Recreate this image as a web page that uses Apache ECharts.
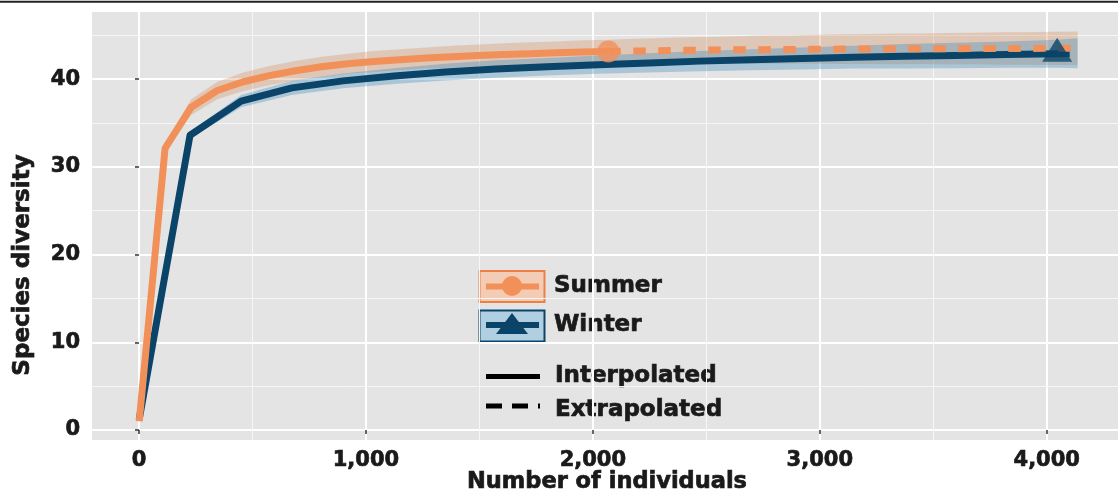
<!DOCTYPE html>
<html>
<head>
<meta charset="utf-8">
<script src="https://cdn.jsdelivr.net/npm/echarts@6/dist/echarts.min.js"></script>
<style>
  html, body { margin: 0; padding: 0; background: #ffffff; }
  #chart { width: 1118px; height: 503px; }
</style>
</head>
<body>
<div id="chart"></div>
<script>
// Rarefaction (interpolated) part of each curve, ending at the observed sample
const summerX = [1, 115, 230, 345, 460, 574, 689, 804, 919, 1034, 1149, 1264, 1379, 1494, 1609, 1723, 1838, 1953, 2068];
const summerY = [1.0, 32.1, 36.8, 38.7, 39.7, 40.4, 40.95, 41.4, 41.75, 42.0, 42.2, 42.4, 42.55, 42.7, 42.8, 42.9, 43.0, 43.08, 43.15];
// Extrapolated part (continues from the observed sample)
const summerExtX = [2183, 2298, 2413, 2528, 2643, 2757, 2872, 2987, 3102, 3217, 3332, 3447, 3562, 3676, 3791, 3906, 4021, 4136];
const summerExtY = [43.2, 43.24, 43.28, 43.31, 43.34, 43.36, 43.38, 43.4, 43.42, 43.43, 43.45, 43.46, 43.47, 43.48, 43.49, 43.5, 43.51, 43.52];
// 95% confidence band over the whole summer curve (interpolated + extrapolated)
const summerLo = [1.0, 31.6, 35.9, 37.7, 38.65, 39.3, 39.85, 40.25, 40.6, 40.8, 41.0, 41.2, 41.3, 41.45, 41.5, 41.6, 41.7, 41.73, 41.8,
                  41.8, 41.79, 41.78, 41.81, 41.79, 41.76, 41.78, 41.75, 41.72, 41.73, 41.7, 41.71, 41.67, 41.68, 41.64, 41.65, 41.61, 41.62];
const summerHi = [1.0, 32.6, 37.7, 39.7, 40.75, 41.5, 42.05, 42.55, 42.9, 43.2, 43.4, 43.6, 43.8, 43.95, 44.1, 44.2, 44.3, 44.43, 44.5,
                  44.6, 44.69, 44.78, 44.81, 44.89, 44.96, 44.98, 45.05, 45.12, 45.13, 45.2, 45.21, 45.27, 45.28, 45.34, 45.35, 45.41, 45.42];

const winterX = [1, 225, 450, 674, 899, 1124, 1349, 1573, 1798, 2023, 2248, 2472, 2697, 2922, 3147, 3371, 3596, 3821, 4046];
const winterY = [1.2, 33.6, 37.5, 39.0, 39.8, 40.35, 40.8, 41.15, 41.4, 41.65, 41.85, 42.05, 42.2, 42.35, 42.5, 42.6, 42.7, 42.8, 42.9];
const winterExtX = [4136];
const winterExtY = [42.93];
const winterLo = [1.2, 33.2, 36.8, 38.2, 38.95, 39.45, 39.85, 40.15, 40.4, 40.6, 40.75, 40.9, 41.0, 41.1, 41.2, 41.2, 41.25, 41.3, 41.3, 41.25];
const winterHi = [1.2, 34.0, 38.2, 39.8, 40.65, 41.25, 41.75, 42.15, 42.4, 42.7, 42.95, 43.2, 43.4, 43.6, 43.8, 44.0, 44.15, 44.3, 44.5, 44.65];

// Axis ticks and grid
const xTicks = [0, 1000, 2000, 3000, 4000];
const xMinorTicks = [500, 1500, 2500, 3500];
const yTicks = [0, 10, 20, 30, 40];
const yMinorTicks = [5, 15, 25, 35, 45];
const seriesNames = ['Summer', 'Winter'];
const methodNames = ['Interpolated', 'Extrapolated'];

const ORANGE = '#F2905A';
const NAVY = '#0A4468';
const FONT = 'DejaVu Sans';
const TEXT = '#1a1a1a';

const chart = echarts.init(document.getElementById('chart'), null, { renderer: 'canvas' });

function pairs(xs, ys) { return xs.map((x, i) => [x, ys[i]]); }

function band(xs, lo, hi, fill, z) {
  return {
    type: 'custom',
    xAxisIndex: 0, yAxisIndex: 0,
    silent: true, z: z,
    data: xs.map((x, i) => [x, lo[i], hi[i]]),
    encode: { x: 0, y: [1, 2] },
    renderItem: function (params, api) {
      if (params.dataIndex !== 0) return null;
      const pts = [];
      for (let i = 0; i < xs.length; i++) pts.push(api.coord([xs[i], hi[i]]));
      for (let i = xs.length - 1; i >= 0; i--) pts.push(api.coord([xs[i], lo[i]]));
      return { type: 'polygon', shape: { points: pts }, style: { fill: fill } };
    }
  };
}

function curve(data, color, dashed, z) {
  return {
    type: 'line', xAxisIndex: 0, yAxisIndex: 0, silent: true, z: z,
    data: data, symbol: 'none', showSymbol: false,
    lineStyle: { color: color, width: 7, type: dashed ? [12.5, 12.5] : 'solid', cap: 'butt', join: 'round' }
  };
}

// heavy bold text: bold face plus a thin outline in the same colour
function label(text, x, y, size, extra) {
  return Object.assign({
    type: 'text', x: x, y: y, silent: true,
    style: { text: text, font: 'bold ' + size + 'px "DejaVu Sans"', fill: TEXT, stroke: TEXT, lineWidth: 0.7, verticalAlign: 'middle' }
  }, extra || {});
}

const summerLast = summerX.length - 1;
const winterLast = winterX.length - 1;

const axisLabelStyle = { fontFamily: FONT, fontWeight: 'bold', fontSize: 21, color: TEXT, textBorderColor: TEXT, textBorderWidth: 0.7 };

const option = {
  animation: false,
  backgroundColor: '#ffffff',
  grid: { left: 92, right: 0, top: 12, bottom: 63, show: true, backgroundColor: '#E4E4E4', borderWidth: 0 },
  xAxis: [
    {
      type: 'value', min: -207, max: 4314,
      axisLine: { show: false },
      axisTick: { show: true, length: 4, customValues: xTicks, lineStyle: { color: '#333', width: 1.5 } },
      axisLabel: Object.assign({ customValues: xTicks, margin: 10, formatter: v => v.toLocaleString('en-US') }, axisLabelStyle),
      splitLine: { show: true, lineStyle: { color: '#ffffff', width: 2 } }
    },
    {
      type: 'value', min: -207, max: 4314, position: 'top',
      axisLine: { show: false },
      axisTick: { show: false, customValues: xMinorTicks },
      axisLabel: { show: false, customValues: xMinorTicks },
      splitLine: { show: true, lineStyle: { color: '#F6F6F6', width: 1 } }
    }
  ],
  yAxis: [
    {
      type: 'value', min: -1.14, max: 47.65,
      axisLine: { show: false },
      axisTick: { show: true, length: 4, customValues: yTicks, lineStyle: { color: '#333', width: 1.5 } },
      axisLabel: Object.assign({ customValues: yTicks, margin: 12 }, axisLabelStyle),
      splitLine: { show: true, lineStyle: { color: '#ffffff', width: 2 } }
    },
    {
      type: 'value', min: -1.14, max: 47.65, position: 'right',
      axisLine: { show: false },
      axisTick: { show: false, customValues: yMinorTicks },
      axisLabel: { show: false, customValues: yMinorTicks },
      splitLine: { show: true, lineStyle: { color: '#F6F6F6', width: 1 } }
    }
  ],
  series: [
    band(summerX.concat(summerExtX), summerLo, summerHi, 'rgba(214,140,90,0.32)', 1),
    band(winterX.concat(winterExtX), winterLo, winterHi, 'rgba(60,140,190,0.35)', 1),
    curve(pairs(winterX, winterY), NAVY, false, 3),
    curve(pairs([winterX[winterLast]].concat(winterExtX), [winterY[winterLast]].concat(winterExtY)), NAVY, true, 3),
    curve(pairs(summerX, summerY), ORANGE, false, 4),
    curve(pairs([summerX[summerLast]].concat(summerExtX), [summerY[summerLast]].concat(summerExtY)), ORANGE, true, 4),
    {
      name: seriesNames[0], type: 'scatter', xAxisIndex: 0, yAxisIndex: 0, silent: true, z: 5,
      data: [[summerX[summerLast], summerY[summerLast]]],
      symbol: 'circle', symbolSize: 22, itemStyle: { color: ORANGE }
    },
    {
      name: seriesNames[1], type: 'scatter', xAxisIndex: 0, yAxisIndex: 0, silent: true, z: 5,
      data: [[winterX[winterLast], winterY[winterLast]]],
      symbol: 'triangle', symbolSize: [30, 24], symbolOffset: [0, -4], itemStyle: { color: NAVY }
    }
  ],
  graphic: [
    // rule along the top edge of the figure
    { type: 'line', shape: { x1: 0, y1: 1.8, x2: 1118, y2: 1.8 }, style: { stroke: '#222', lineWidth: 2 }, silent: true },
    // axis titles
    label('Number of individuals', 607, 482, 22.5, { style: { text: 'Number of individuals', font: 'bold 22.5px "DejaVu Sans"', fill: TEXT, stroke: TEXT, lineWidth: 0.7, align: 'center', verticalAlign: 'middle' } }),
    label('Species diversity', 23, 265, 23, { rotation: Math.PI / 2, style: { text: 'Species diversity', font: 'bold 23px "DejaVu Sans"', fill: TEXT, stroke: TEXT, lineWidth: 0.7, align: 'center', verticalAlign: 'middle' } }),
    // legend: seasons
    { type: 'rect', shape: { x: 479.5, y: 271, width: 65, height: 31 }, style: { fill: '#F2CCB4', stroke: '#EE8046', lineWidth: 2 }, silent: true },
    { type: 'line', shape: { x1: 486, y1: 286.5, x2: 539, y2: 286.5 }, style: { stroke: ORANGE, lineWidth: 6 }, silent: true },
    { type: 'circle', shape: { cx: 512, cy: 286, r: 10 }, style: { fill: ORANGE }, silent: true },
    label(seriesNames[0], 554, 286.5, 23),
    { type: 'rect', shape: { x: 479.5, y: 310.5, width: 65, height: 31 }, style: { fill: '#B0D0E2', stroke: NAVY, lineWidth: 2 }, silent: true },
    { type: 'line', shape: { x1: 486, y1: 325, x2: 539, y2: 325 }, style: { stroke: NAVY, lineWidth: 6 }, silent: true },
    { type: 'polygon', shape: { points: [[512, 313], [528, 334], [496, 334]] }, style: { fill: NAVY }, silent: true },
    label(seriesNames[1], 554, 325.5, 23),
    // legend: line types
    { type: 'line', shape: { x1: 486, y1: 376.5, x2: 540, y2: 376.5 }, style: { stroke: '#000', lineWidth: 5 }, silent: true },
    label(methodNames[0], 555, 376, 23),
    { type: 'line', shape: { x1: 486, y1: 406, x2: 540, y2: 406 }, style: { stroke: '#000', lineWidth: 5, lineDash: [16, 10] }, silent: true },
    label(methodNames[1], 555, 410, 23)
  ]
};

chart.setOption(option);
</script>
</body>
</html>
